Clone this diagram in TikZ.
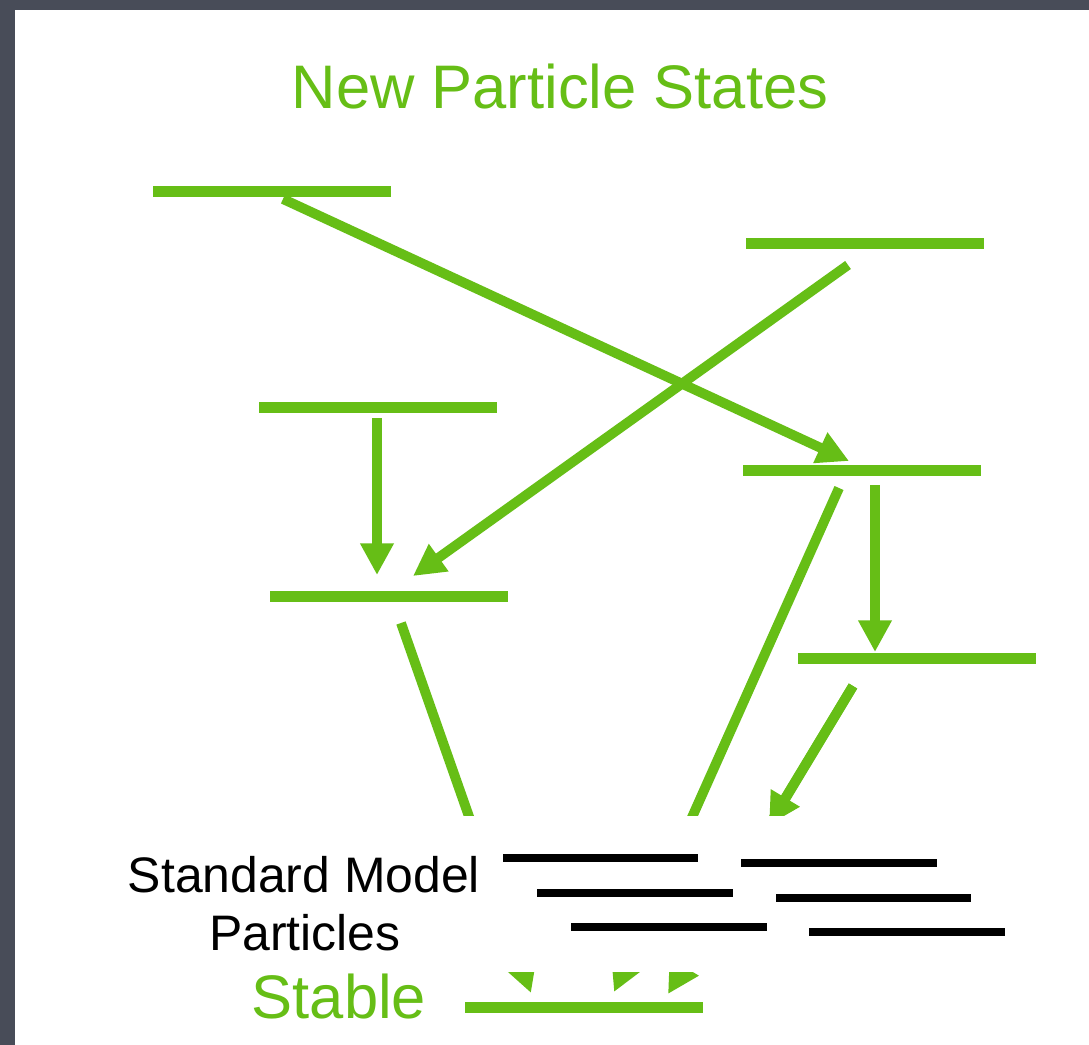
\documentclass[tikz,border=0pt]{standalone}
\usepackage{fontspec}
\setmainfont{Liberation Sans}
\usepackage{tikz}
\usetikzlibrary{arrows.meta}
\definecolor{lime}{RGB}{102, 190, 22}
\definecolor{slate}{RGB}{72, 76, 88}
\newcommand*{\levw}{4.76cm}

\begin{document}
\begin{tikzpicture}[
   x=0.02cm, y=-0.02cm,
   level/.style={rectangle, fill=lime, inner sep=0, minimum width=\levw,
                 minimum height=0.22cm},
   decay/.style={-{Triangle[length=18pt, width=18pt]}, draw=lime,
                 line width=5.6pt},
   smline/.style={draw=black, line width=5pt},
   smtext/.style={anchor=base, text=black, font=\fontsize{28.4}{33}\selectfont},
   greentext/.style={anchor=base, text=lime, font=\fontsize{35}{40}\selectfont}
  ]

  % Frame
  \fill[slate] (0,0) rectangle (1089,1045);
  \fill[white] (15,10) rectangle (1089,1045);

  \node (title) at (560,108) [greentext] {New Particle States};

  % Levels
  \node (L1) at (272,191) [level] {};
  \node (L2) at (865,243) [level] {};
  \node (L3) at (378,407) [level] {};
  \node (L4) at (862,470) [level] {};
  \node (L5) at (389,596) [level] {};
  \node (L6) at (917,658) [level] {};
  \node (S) at (584,1007) [level] {};

  % Arrow ends
  \coordinate (L1o) at (283,199);
  \coordinate (L4i) at (849,461);
  \coordinate (L2o) at (848,265);
  \coordinate (L5i) at (413,576);
  \coordinate (L3o) at (377,418);
  \coordinate (L5j) at (377,575);
  \coordinate (L4o) at (875,485);
  \coordinate (L6i) at (875,652);
  \coordinate (L5o) at (401,623);
  \coordinate (Sa) at (531,993);
  \coordinate (L4p) at (839,488);
  \coordinate (Sb) at (614,992);
  \coordinate (L6o) at (853,686);
  \coordinate (Sc) at (668,994);
  \coordinate (SMc) at (769,825);

  \foreach \B/\E in {L1o/L4i, L2o/L5i, L3o/L5j, L4o/L6i,
                     L5o/Sa, L4p/Sb, L6o/Sc, L6o/SMc} {
    \draw[decay] (\B) -- (\E);
  }

  % Standard Model box
  \node (smbox) at (560,894) [fill=white, inner sep=0, minimum width=18.2cm,
                              minimum height=3.12cm] {};

  \foreach \xa/\xb/\yy in {503/698/858, 741/937/863, 537/733/893,
                           776/971/898, 571/767/927, 809/1005/932} {
    \draw[smline] (\xa,\yy) -- (\xb,\yy);
  }

  \node (sm) at (304,892) [smtext] {Standard Model};
  \node (part) at (305,950) [smtext] {Particles};
  \node (stab) at (339,1018) [greentext] {Stable};

\end{tikzpicture}
\end{document}
